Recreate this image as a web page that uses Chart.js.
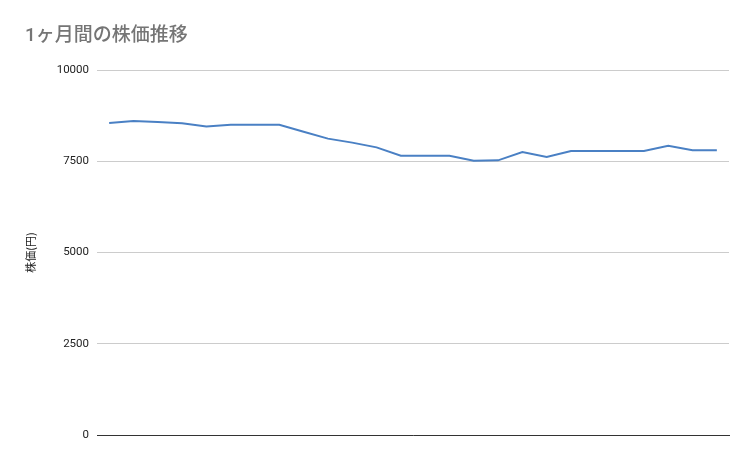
<!DOCTYPE html>
<html>
<head>
<meta charset="utf-8">
<script src="https://cdn.jsdelivr.net/npm/chart.js@4"></script>
<style>
html,body{margin:0;padding:0;background:#fff;}
#wrap{width:753px;height:466px;}
</style>
</head>
<body>
<div id="wrap"><canvas id="c"></canvas></div>
<script>
const days = ['1','2','3','4','5','6','7','8','9','10','11','12','13','14','15','16','17','18','19','20','21','22','23','24','25','26'];
const prices = [8550,8600,8575,8540,8450,8500,8500,8500,8310,8120,8010,7880,7650,7650,7650,7515,7525,7750,7615,7780,7780,7780,7780,7925,7800,7800];
const yTicks = [0,2500,5000,7500,10000];
const titleText = '1ヶ月間の株価推移';
const yTitle = '株価(円)';

new Chart(document.getElementById('c'), {
  type: 'line',
  data: {
    labels: days,
    datasets: [{
      data: prices,
      borderColor: '#4a80c4',
      borderWidth: 2,
      pointRadius: 0,
      tension: 0,
      fill: false
    }]
  },
  options: {
    responsive: true,
    maintainAspectRatio: false,
    animation: false,
    layout: { padding: { left: 25, right: 24, top: 14, bottom: 31 } },
    plugins: {
      legend: { display: false },
      tooltip: { enabled: false },
      title: {
        display: true,
        text: titleText,
        align: 'start',
        color: '#757575',
        font: { family: "Roboto, 'Noto Sans CJK JP', sans-serif", size: 19, weight: '500' },
        padding: { top: 11, bottom: 22.2 }
      }
    },
    scales: {
      x: {
        offset: true,
        grid: { display: false, drawTicks: false },
        border: { display: true, color: '#333333', width: 1 },
        ticks: { display: false }
      },
      y: {
        min: 0,
        max: 10000,
        afterBuildTicks: (s) => { s.ticks = yTicks.map(v => ({ value: v })); },
        afterFit: (s) => { s.width = 72; },
        grid: { color: '#cccccc', drawTicks: false },
        border: { display: false },
        ticks: {
          padding: 8,
          color: '#222222',
          callback: (v) => String(v),
          font: { family: "Roboto, 'Noto Sans CJK JP', sans-serif", size: 11.5 }
        },
        title: {
          display: true,
          text: yTitle,
          color: '#222222',
          padding: { top: 0, bottom: 0 },
          font: { family: "'Noto Sans CJK JP', sans-serif", size: 11, lineHeight: 1 }
        }
      }
    }
  }
});
</script>
</body>
</html>
